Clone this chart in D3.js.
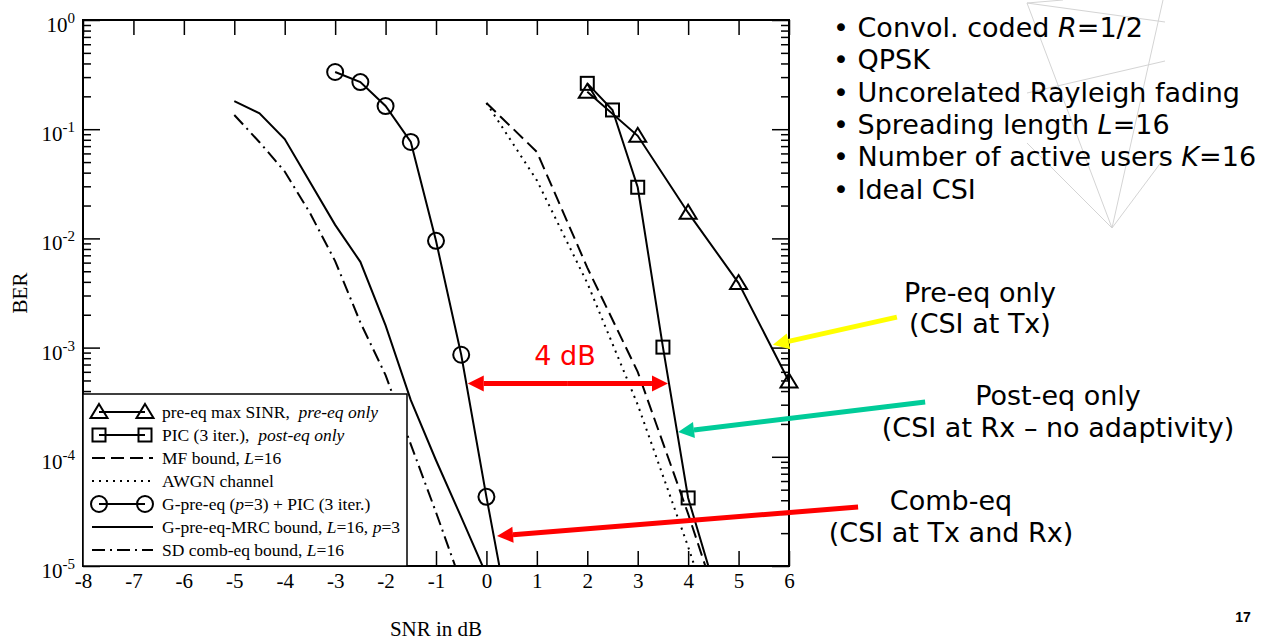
<!DOCTYPE html>
<html>
<head>
<meta charset="utf-8">
<script src="https://cdn.jsdelivr.net/npm/d3@7"></script>
<style>
  body { margin: 0; background: #fff; }
  svg { display: block; }
  .serif { font-family: 'Liberation Serif', 'Times New Roman', serif; }
  .sans { font-family: 'DejaVu Sans', Verdana, sans-serif; }
</style>
</head>
<body>
<div id="container"></div>
<script>
// x values in dB, y values are BER
const xTicks = [-8, -7, -6, -5, -4, -3, -2, -1, 0, 1, 2, 3, 4, 5, 6];
const yDecades = [0, -1, -2, -3, -4, -5];

const preEqX = [2, 3, 4, 5, 6];
const preEqBer = [0.22, 0.087, 0.0172, 0.0039, 4.9e-4];

const picX = [2, 2.5, 3, 3.5, 4, 4.5];
const picBer = [0.263, 0.15, 0.0294, 0.00101, 4.2e-5, 7e-6];

const mfX = [0, 1, 2, 3, 4, 4.5];
const mfBer = [0.174, 0.062, 0.0054, 6e-4, 3e-5, 6e-6];

const awgnX = [0, 1, 2, 3, 4, 4.5];
const awgnBer = [0.174, 0.034, 0.0039, 3e-4, 1.5e-5, 3e-6];

const gpreX = [-3, -2.5, -2, -1.5, -1, -0.5, 0, 0.5];
const gpreBer = [0.334, 0.27, 0.163, 0.0764, 0.0095, 8.6e-4, 4.3e-5, 2.5e-6];

const mrcX = [-5, -4.5, -4, -3, -2.5, -2, -1.5, -1, -0.5, 0];
const mrcBer = [0.181, 0.14, 0.0813, 0.0133, 0.0061, 0.0016, 3.3e-4, 9.3e-5, 2.8e-5, 8.3e-6];

const sdX = [-5, -4.5, -4, -3.5, -3, -2.5, -2, -1.5, -1, -0.5];
const sdBer = [0.135, 0.076, 0.041, 0.0171, 0.0062, 0.0017, 5.6e-4, 1.3e-4, 3.1e-5, 7e-6];

const bullets = [
  ['Convol. coded ', 'R', '=1/2'],
  ['QPSK'],
  ['Uncorelated Rayleigh fading'],
  ['Spreading length ', 'L', '=16'],
  ['Number of active users ', 'K', '=16'],
  ['Ideal CSI']
];

const w = 1265;
const h = 641;

const svg = d3.select('#container').append('svg')
  .attr('width', w)
  .attr('height', h);

// faint background wireframe
const wire = [
  [1027, 3, 1165, 22], [1027, 3, 1112, 228], [1063, 0, 1027, 3],
  [1163, 0, 1112, 228], [1027, 93, 1165, 61], [1027, 143, 1112, 228],
  [1165, 157, 1112, 228]
];
svg.append('g').selectAll('line').data(wire).enter().append('line')
  .attr('x1', d => d[0]).attr('y1', d => d[1])
  .attr('x2', d => d[2]).attr('y2', d => d[3])
  .attr('stroke', '#d4d4d4').attr('stroke-width', 1);

const x = d3.scaleLinear().domain([-8, 6]).range([83, 789]);
const y = d3.scaleLog().domain([1, 1e-5]).range([20, 566]);

const minor = [];
for (let e = -5; e < 0; e++) {
  for (let m = 2; m <= 9; m++) minor.push(m * Math.pow(10, e));
}
const major = yDecades.map(e => Math.pow(10, e));

function tidy(g) {
  g.select('.domain').remove();
  g.selectAll('.tick line').attr('stroke', '#000').attr('stroke-width', 1.5);
}

svg.append('g').attr('transform', 'translate(0,566)')
  .call(d3.axisBottom(x).tickValues(xTicks).tickSizeInner(-15).tickSizeOuter(0).tickPadding(7).tickFormat(d => d))
  .call(tidy)
  .selectAll('text')
  .attr('class', 'serif').attr('font-size', 21).attr('fill', '#000');

svg.append('g').attr('transform', 'translate(0,20)')
  .call(d3.axisTop(x).tickValues(xTicks).tickSizeInner(-15).tickSizeOuter(0).tickFormat(''))
  .call(tidy);

svg.append('g').attr('transform', 'translate(83,0)')
  .call(d3.axisLeft(y).tickValues(major).tickSizeInner(-17).tickSizeOuter(0).tickFormat(''))
  .call(tidy);
svg.append('g').attr('transform', 'translate(83,0)')
  .call(d3.axisLeft(y).tickValues(minor).tickSizeInner(-8).tickSizeOuter(0).tickFormat(''))
  .call(tidy);
svg.append('g').attr('transform', 'translate(789,0)')
  .call(d3.axisRight(y).tickValues(major).tickSizeInner(-17).tickSizeOuter(0).tickFormat(''))
  .call(tidy);
svg.append('g').attr('transform', 'translate(789,0)')
  .call(d3.axisRight(y).tickValues(minor).tickSizeInner(-8).tickSizeOuter(0).tickFormat(''))
  .call(tidy);

// y labels 10^n
const ylab = svg.append('g').attr('class', 'serif').attr('font-size', 21)
  .selectAll('text').data(yDecades).enter().append('text')
  .attr('x', 75)
  .attr('y', d => y(Math.pow(10, d)) + 12)
  .attr('text-anchor', 'end');
ylab.append('tspan').text('10');
ylab.append('tspan').attr('dy', -9).attr('font-size', 15).text(d => d === 0 ? '0' : '-' + (-d));

// axis titles
svg.append('text').attr('class', 'serif').attr('font-size', 21)
  .attr('transform', 'translate(27,293) rotate(-90)')
  .attr('text-anchor', 'middle').text('BER');
svg.append('text').attr('class', 'serif').attr('font-size', 21)
  .attr('x', 436).attr('y', 636).attr('text-anchor', 'middle').text('SNR in dB');

// curves
svg.append('clipPath').attr('id', 'plot')
  .append('rect').attr('x', 83).attr('y', 20).attr('width', 706).attr('height', 546);

const line = d3.line().x(d => x(d[0])).y(d => y(d[1]));
const zip = (a, b) => a.map((v, i) => [v, b[i]]);

const series = [
  { xs: preEqX, ys: preEqBer, dash: null, marker: 'tri' },
  { xs: picX, ys: picBer, dash: null, marker: 'sq' },
  { xs: mfX, ys: mfBer, dash: '13,6', marker: null },
  { xs: awgnX, ys: awgnBer, dash: '2,5', marker: null },
  { xs: gpreX, ys: gpreBer, dash: null, marker: 'circ' },
  { xs: mrcX, ys: mrcBer, dash: null, marker: null },
  { xs: sdX, ys: sdBer, dash: '13,5,2,5', marker: null }
];

const curves = svg.append('g').attr('clip-path', 'url(#plot)');
series.forEach(s => {
  curves.append('path')
    .datum(zip(s.xs, s.ys))
    .attr('d', line)
    .attr('fill', 'none')
    .attr('stroke', '#000')
    .attr('stroke-width', 2)
    .attr('stroke-dasharray', s.dash);
});

function marker(g, type, cx, cy) {
  if (type === 'tri') {
    g.append('path').attr('d', `M${cx},${cy - 8}L${cx + 8.5},${cy + 6}L${cx - 8.5},${cy + 6}Z`)
      .attr('fill', 'none').attr('stroke', '#000').attr('stroke-width', 2);
  } else if (type === 'sq') {
    g.append('rect').attr('x', cx - 6.5).attr('y', cy - 6.5).attr('width', 13).attr('height', 13)
      .attr('fill', 'none').attr('stroke', '#000').attr('stroke-width', 2);
  } else if (type === 'circ') {
    g.append('circle').attr('cx', cx).attr('cy', cy).attr('r', 8)
      .attr('fill', 'none').attr('stroke', '#000').attr('stroke-width', 2);
  }
}

const marks = svg.append('g');
series.filter(s => s.marker).forEach(s => {
  zip(s.xs, s.ys).filter(d => d[1] >= 1e-5).forEach(d => marker(marks, s.marker, x(d[0]), y(d[1])));
});

// frame
svg.append('rect').attr('x', 83).attr('y', 20).attr('width', 706).attr('height', 546)
  .attr('fill', 'none').attr('stroke', '#000').attr('stroke-width', 2);

// legend
const legendRows = [
  { parts: [['pre-eq max SINR,  ', 0], ['pre-eq only', 1]], s: series[0] },
  { parts: [['PIC (3 iter.),  ', 0], ['post-eq only', 1]], s: series[1] },
  { parts: [['MF bound, ', 0], ['L', 1], ['=16', 0]], s: series[2] },
  { parts: [['AWGN channel', 0]], s: series[3] },
  { parts: [['G-pre-eq (', 0], ['p', 1], ['=3) + PIC (3 iter.)', 0]], s: series[4] },
  { parts: [['G-pre-eq-MRC bound, ', 0], ['L', 1], ['=16, ', 0], ['p', 1], ['=3', 0]], s: series[5] },
  { parts: [['SD comb-eq bound, ', 0], ['L', 1], ['=16', 0]], s: series[6] }
];

const leg = svg.append('g');
leg.append('rect').attr('x', 83).attr('y', 394).attr('width', 324).attr('height', 172)
  .attr('fill', '#fff').attr('stroke', '#000').attr('stroke-width', 1.5);

legendRows.forEach((r, i) => {
  const cy = 412 + i * 23;
  const x0 = r.s.marker ? 99 : 92;
  const x1 = r.s.marker ? 145 : 153;
  leg.append('line').attr('x1', x0).attr('x2', x1).attr('y1', cy).attr('y2', cy)
    .attr('stroke', '#000').attr('stroke-width', 2).attr('stroke-dasharray', r.s.dash);
  if (r.s.marker) {
    marker(leg, r.s.marker, x0, cy);
    marker(leg, r.s.marker, x1, cy);
  }
  const t = leg.append('text').attr('class', 'serif').attr('font-size', 17.5)
    .attr('x', 162).attr('y', cy + 5.5);
  r.parts.forEach(p => {
    t.append('tspan').attr('font-style', p[1] ? 'italic' : null).attr('xml:space', 'preserve').text(p[0]);
  });
});

// bullet list
const bl = svg.append('g').attr('class', 'sans').attr('font-size', 27).attr('fill', '#000');
bullets.forEach((b, i) => {
  const t = bl.append('text').attr('x', 833).attr('y', 37 + i * 32.3);
  t.append('tspan').text('\u2022 ');
  b.forEach((p, j) => t.append('tspan').attr('font-style', j === 1 ? 'italic' : null).text(p));
});

// annotations
function arrow(x1, y1, x2, y2, color) {
  const a = Math.atan2(y2 - y1, x2 - x1);
  const len = 16, hw = 8;
  const bx = x2 - len * Math.cos(a), by = y2 - len * Math.sin(a);
  svg.append('line').attr('x1', x1).attr('y1', y1).attr('x2', bx).attr('y2', by)
    .attr('stroke', color).attr('stroke-width', 5);
  svg.append('path')
    .attr('d', `M${x2},${y2}L${bx + hw * Math.sin(a)},${by - hw * Math.cos(a)}L${bx - hw * Math.sin(a)},${by + hw * Math.cos(a)}Z`)
    .attr('fill', color);
}

arrow(x(8.14), y(1.9e-3), x(5.68), y(1.06e-3), '#ffff00');
arrow(x(8.7), y(3.18e-4), x(3.8), y(1.69e-4), '#00cc99');
arrow(x(7.37), y(3.47e-5), x(0.21), y(1.88e-5), '#ff0000');
arrow(x(1.6), y(4.7e-4), x(-0.37), y(4.7e-4), '#ff0000');
arrow(x(1.6), y(4.7e-4), x(3.6), y(4.7e-4), '#ff0000');

const notes = [
  ['4 dB', 565, 365, '#ff0000'],
  ['Pre-eq only', 980, 302, '#000'],
  ['(CSI at Tx)', 980, 333, '#000'],
  ['Post-eq only', 1058, 405, '#000'],
  ['(CSI at Rx \u2013 no adaptivity)', 1058, 437, '#000'],
  ['Comb-eq', 951, 510, '#000'],
  ['(CSI at Tx and Rx)', 951, 542, '#000']
];
svg.append('g').attr('class', 'sans').attr('font-size', 27)
  .selectAll('text').data(notes).enter().append('text')
  .attr('x', d => d[1]).attr('y', d => d[2])
  .attr('fill', d => d[3])
  .attr('text-anchor', 'middle')
  .text(d => d[0]);

svg.append('text').attr('font-family', 'Liberation Sans, Arial, sans-serif')
  .attr('font-weight', 'bold').attr('font-size', 14)
  .attr('x', 1243).attr('y', 622).attr('text-anchor', 'middle').text('17');
</script>
</body>
</html>
